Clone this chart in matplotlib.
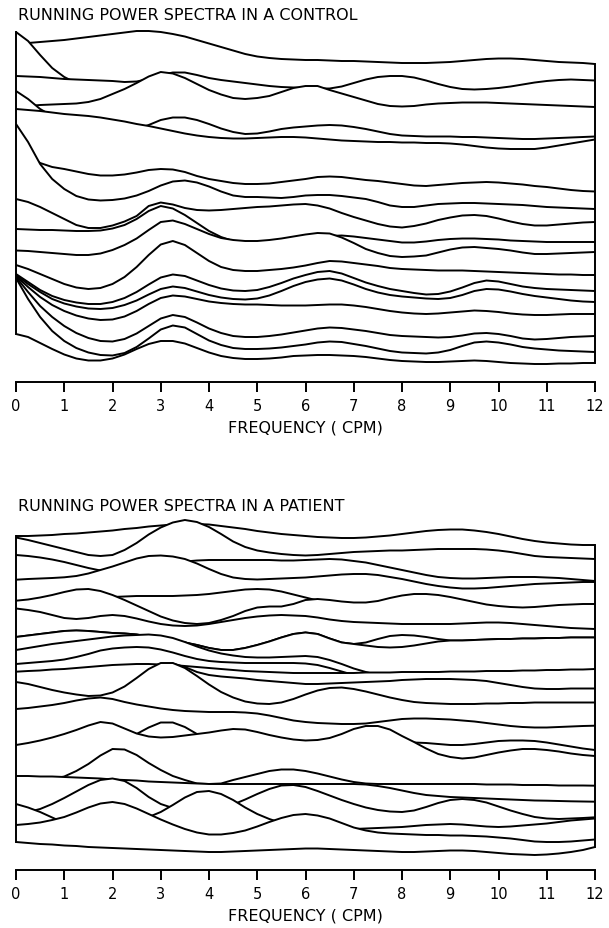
import matplotlib
matplotlib.use('Agg')
import matplotlib.pyplot as plt
import numpy as np

plt.rcParams['font.family'] = 'DejaVu Sans'

W, H = 609, 929

# frequency grid (cpm), 0.25 cpm steps
freq = np.linspace(0, 12, 49)

# running spectra, control -- back (first epoch) to front, stacked power (arb. units)
control_01 = [323, 326, 327, 328, 329, 330.5, 332, 333.5, 335, 336.5, 338, 338, 337, 335, 332.5, 329, 325.5, 322, 318.5, 315, 312.5, 311, 310, 309.5, 309, 309, 308.5, 308, 308, 307.5, 307, 306.5, 306, 306, 306, 306.5, 307, 308, 309, 310, 310.5, 310.5, 310, 309, 308, 307, 306.5, 306, 305]
control_02 = [337, 328, 314, 301, 292, 286, 280, 275, 270, 268, 267, 266, 266, 266, 266, 266, 266, 266, 266, 266, 266, 266, 266, 266, 266, 266, 266, 266, 266, 266, 266, 266, 266, 266, 266, 266, 266, 266, 266, 266, 266, 266, 266, 266, 266, 266, 266, 266, 266]
control_03 = [293, 292.5, 292, 291, 290, 289.5, 289, 288.5, 288, 287, 287.5, 290, 294, 296.5, 296.5, 294, 291, 289, 287.5, 286, 284.5, 283, 282, 281.5, 281, 280.5, 280.5, 282.5, 286, 289.5, 292, 293, 293, 291.5, 288.5, 285, 282, 280, 279.5, 280, 281, 282.5, 284.5, 286.5, 288, 289, 289.5, 289, 288.5]
control_04 = [262, 263, 264, 264.5, 265, 265.5, 267, 270, 275, 280, 286, 292.5, 297, 295.5, 291, 285, 279, 274.5, 271, 270, 271, 273, 277, 281, 283, 283, 279, 275.5, 272, 268.5, 265, 263, 262.5, 263, 264.5, 265.5, 266, 266.5, 266.5, 266.5, 266, 265.5, 265, 264.5, 264, 263.5, 263, 262.5, 262]
control_05 = [278, 270, 260, 253, 251, 247, 244, 242, 240, 239, 240, 244, 249, 251.5, 251.5, 249, 245, 240.5, 237, 235, 235.5, 237.5, 240, 241.5, 242.5, 243.5, 244, 243.5, 242, 240, 237.5, 235, 233.5, 233, 232.5, 232.5, 232.5, 232, 232, 231.5, 231, 230.5, 230, 230, 230.5, 231, 231.5, 232, 232.5]
control_06 = [260, 259, 258, 256.5, 255, 254, 253, 251.5, 249.5, 247.5, 245, 243, 240.5, 238, 235.5, 233.5, 232, 231, 230.5, 230.5, 231, 231.5, 232, 232, 231.5, 230.5, 229.5, 228.5, 228, 227.5, 227, 227, 226.5, 226.5, 226, 226, 225.5, 224.5, 223, 221.5, 220.5, 220, 220, 220, 221.5, 223.5, 225.5, 227.5, 229.5]
control_07 = [220, 215, 206, 202, 200, 197.5, 195, 193.5, 193.5, 194.5, 196.5, 199, 200, 199.5, 197, 193, 190, 188, 186, 185, 185, 185.5, 187, 188.5, 190, 192, 192.5, 192, 190.5, 189, 188, 186.5, 185, 183.5, 183, 184, 185, 186, 186.5, 187, 186.5, 185.5, 184.5, 183, 182, 180.5, 179, 178, 177.5]
control_08 = [245, 227, 205, 190, 180, 173, 169.5, 168.5, 169, 170.5, 173.5, 178, 183.5, 187.5, 188.5, 186.5, 182.5, 177.5, 173.5, 172, 172, 171.5, 171, 172, 173.5, 174, 174, 173, 171.5, 170, 167, 163.5, 162, 162, 163.5, 165, 165.5, 166, 166, 165.5, 165, 164.5, 164, 163, 162, 161.5, 161, 160.5, 160]
control_09 = [170, 167, 162, 156, 150, 144, 141, 141, 143.5, 147.5, 153, 163, 166.5, 164.5, 161, 159, 158.5, 159, 160, 161, 162, 162.5, 163.5, 164.5, 165, 163.5, 160.5, 156, 152, 148.5, 145, 142.5, 141.5, 143, 145.5, 149, 151.5, 153.5, 154, 153, 150.5, 147.5, 145, 143.5, 143.5, 144.5, 145.5, 146.5, 147]
control_10 = [140, 139.5, 139, 139, 138.5, 138, 138, 138.5, 140.5, 144, 150, 158, 163, 160.5, 154, 146, 138, 132, 128, 125, 124, 124, 125, 127, 129, 131, 133, 133.5, 132.5, 131, 129.5, 128, 126.5, 126.5, 127.5, 129, 130, 130.5, 130.5, 130, 129.5, 128.5, 128, 127.5, 127, 127, 127, 127, 127]
control_11 = [118.5, 118, 117, 116, 115, 114, 114, 115.5, 119, 124, 130.5, 139, 147, 148.5, 145, 140, 135, 131, 129, 128, 128, 129, 130.5, 132.5, 134.5, 136, 135.5, 131.5, 126, 120, 116, 113, 112, 112.5, 113.5, 116.5, 119.5, 121.5, 122, 121, 120, 118.5, 116.5, 115, 115, 115.5, 116, 116.5, 117]
control_12 = [104, 100, 95, 90, 85, 81.5, 80, 81, 85, 92, 102, 114, 124.5, 128, 124, 116, 108, 102, 99, 98, 98, 99, 100, 101.5, 103.5, 106, 108, 107.5, 106, 104.5, 103, 101, 100, 99.5, 99, 98.5, 98.5, 98.5, 98, 97.5, 97, 96.5, 96, 95.5, 95, 94.5, 94.5, 94, 94]
control_13 = [95, 87, 79, 73, 69, 66.5, 65, 65, 67, 71, 77, 84.5, 91.5, 94.5, 93, 88.5, 84, 80.5, 78.5, 78, 79, 82, 86, 90.5, 94, 97, 98, 95.5, 91, 86.5, 83, 80, 78, 76, 74.5, 75, 77.5, 81.5, 86, 88.5, 87.5, 85, 82.5, 81, 80, 79.5, 79, 78.5, 78]
control_14 = [94, 85, 77, 70, 65.5, 62.5, 60.5, 60, 61, 64, 68.5, 74.5, 80, 82.5, 81, 77.5, 74, 71.5, 70, 69.5, 70.5, 73.5, 78, 83, 87, 89.5, 90.5, 88.5, 84.5, 80, 76.5, 74, 72.5, 71.5, 70.5, 70, 71, 74, 78, 80, 79.5, 77.5, 75, 73, 71.5, 70, 68.5, 67.5, 67]
control_15 = [93, 82, 72, 64, 58, 53.5, 50.5, 49, 49.5, 52.5, 58, 65, 71, 73.5, 72.5, 70, 67.5, 66, 65, 64.5, 64.5, 64, 63.5, 63.5, 63.5, 64, 64.5, 64.5, 63.5, 62, 60, 58, 56.5, 55.5, 55, 55.5, 56.5, 57.5, 58.5, 58, 57, 55.5, 54.5, 54, 54, 54.5, 55, 55, 55]
control_16 = [92, 77, 63, 52, 43, 36, 31, 28, 27.5, 30, 35.5, 43, 50.5, 54, 52, 46.5, 40.5, 36, 33, 32, 32, 33, 34.5, 36.5, 38.5, 40.5, 41.5, 41, 39.5, 38, 36, 34, 33, 32.5, 32, 31.5, 32, 33.5, 35.5, 36, 35, 33, 30.5, 29.5, 30, 31, 32, 32.5, 33]
control_17 = [91, 70, 52, 38, 28, 21, 16.5, 14, 13.5, 16, 22, 30.5, 39.5, 43.5, 41.5, 35, 28.5, 24, 21, 20, 20, 20.5, 21.5, 23, 24.5, 26.5, 27.5, 27, 25, 23, 20.5, 18, 16.5, 16, 15.5, 16.5, 19, 23, 26.5, 27.5, 26.5, 24.5, 22, 20.5, 19.5, 18.5, 18, 17.5, 17]
control_18 = [35, 32, 26, 20, 14.5, 10.5, 8.5, 8.5, 10.5, 14.5, 20, 25, 28, 28, 25.5, 21, 16.5, 13, 11, 10, 10, 10.5, 11.5, 13, 13.5, 14, 14, 13.5, 13, 12, 10.5, 9, 8, 7.5, 7, 7, 7.5, 8, 8.5, 8, 7, 6, 5.5, 5, 5, 5.5, 5.5, 6, 6]

# running spectra, patient -- back to front
patient_01 = [313, 313, 313.5, 314, 315, 315.5, 316.5, 317.5, 318.5, 320, 321, 322.5, 323.5, 324.5, 325, 325, 324.5, 323, 321.5, 320, 318, 316.5, 315, 314, 313, 312, 311.5, 311, 311, 311.5, 312.5, 313.5, 315, 316.5, 318, 319, 319.5, 319.5, 318.5, 317, 315, 312.5, 310, 308, 306.5, 305.5, 304.5, 304, 304]
patient_02 = [311.5, 309, 306, 303, 300, 297, 294, 293, 294, 299, 306, 314.5, 321.5, 326.5, 329, 327, 322, 315, 307.5, 302, 298.5, 296.5, 295, 294, 293.5, 294, 295, 296, 297, 297.5, 298, 298.5, 298.5, 299, 299.5, 300, 300, 300, 300, 299.5, 298.5, 297, 295, 293, 292, 291.5, 291, 290.5, 290]
patient_03 = [294, 293, 291.5, 289.5, 287, 284, 281, 278.5, 277, 277, 278, 280, 283, 285.5, 287.5, 288.5, 289, 289, 289, 289, 289, 289, 288.5, 288.5, 289, 289.5, 290, 289.5, 288, 286.5, 284, 281.5, 279, 276.5, 274, 272, 271, 270.5, 270.5, 271, 271.5, 272, 272, 272, 271.5, 271, 270, 269, 268]
patient_04 = [269.3, 270, 270.5, 271, 271.7, 273, 275.5, 279, 282.5, 286.5, 290.5, 293, 293.5, 292.5, 290, 285.5, 280, 275, 271.5, 270, 269.5, 270, 270.5, 271, 271.5, 272.5, 273.5, 274.5, 275, 275, 274, 272, 270, 267.5, 265, 263, 261.5, 260.5, 260.5, 261, 262, 263, 264, 265, 265.5, 266, 266.5, 267, 267]
patient_05 = [238, 240, 242.5, 245, 247, 248.5, 250, 251, 252, 252.5, 253, 253, 253, 253, 253.5, 254, 255, 256.5, 258, 259.5, 260, 259.5, 257.5, 254.5, 251.5, 248.5, 246, 244.5, 244, 244, 244, 244, 244, 243.5, 243, 242.5, 242, 241.5, 241, 240.5, 240, 239.5, 239, 239, 239, 239, 239, 239, 239]
patient_06 = [248.3, 249.5, 251.5, 254, 257, 259.5, 260, 258, 254, 249, 243.5, 238, 232.5, 228.5, 226, 225, 226, 229, 233, 238, 241.5, 242.5, 242.5, 245, 249, 250, 249, 247.5, 246.5, 246.5, 248, 251, 253.5, 255, 255, 254, 252, 249.5, 247, 244.5, 243, 242, 241.5, 242, 243, 244, 244.5, 245, 245]
patient_07 = [240.5, 239, 237, 234, 231, 230, 231, 233, 234, 233, 230.5, 227.5, 225, 223.5, 223, 223.5, 225, 227, 229, 231, 232.5, 233.5, 234, 233.5, 233, 231.5, 229.5, 228, 227, 226.5, 226, 225.5, 225, 225, 225, 225, 225, 225.5, 226, 226.5, 226.5, 226, 225, 224, 223, 222, 221, 220.5, 220]
patient_08 = [212, 213.5, 215, 216.5, 218, 218.5, 218, 217, 216, 215.5, 214.5, 212.5, 210, 208, 206.5, 204, 201, 199, 199, 201, 204, 207.5, 211.5, 215, 216.5, 215, 210.5, 206.5, 205, 206.5, 210, 213, 214, 213.5, 212, 210, 208.5, 208.5, 209, 209.5, 210, 210, 210.5, 210.5, 211, 211, 211.5, 211.5, 211.5]
patient_09 = [212, 213.5, 215, 216.5, 218, 218.5, 218, 217, 216, 215.5, 214.5, 212.5, 210, 208, 206.5, 204, 201, 199, 199, 201, 204, 207.5, 211.5, 215, 216.5, 215, 210.5, 206.5, 205, 203.5, 202, 201.5, 202, 203.5, 205.5, 207.5, 208.5, 208.5, 209, 209.5, 210, 210, 210.5, 210.5, 211, 211, 211.5, 211.5, 211.5]
patient_10 = [199, 201, 203, 205, 206.5, 208, 209.5, 211, 212.5, 213.5, 214, 214.5, 213.5, 211, 207, 202.5, 198.5, 195.5, 193.5, 192, 191.5, 191.5, 192, 192.5, 193, 192, 189, 185, 180.5, 177, 174, 172, 171, 170.5, 170.5, 170.5, 170.5, 170.5, 170.5, 170.5, 170.5, 170.5, 170.5, 170, 170, 170, 170, 170, 170]
patient_11 = [185, 186, 187, 188, 189.5, 192, 195, 198.5, 200.5, 201.5, 202, 201.5, 199.5, 196.5, 193, 190, 188, 187, 186.5, 186, 186, 186, 186, 186, 185.5, 184, 181, 177.5, 174, 171.5, 170, 169, 169, 169, 169, 169, 169, 169, 169, 169, 169, 169, 169, 169, 169, 169, 169, 169, 169]
patient_12 = [177.3, 178, 178.5, 179.5, 180, 181, 182, 183, 184, 184.5, 185, 185, 184.5, 184, 183, 182, 181, 180, 179, 178, 177.5, 177, 176.5, 176, 176, 176, 176, 176, 176, 176.5, 176.5, 176.5, 177, 177, 177, 177, 177.5, 177.5, 177.5, 178, 178, 178, 178.5, 178.5, 179, 179, 179.5, 179.5, 180]
patient_13 = [158, 156, 154, 152, 150, 149, 149, 149.5, 151.5, 157, 166, 177, 184.5, 185.5, 182, 177, 174, 172.5, 171.5, 170.5, 169, 168, 167, 166, 165, 165, 165.5, 166, 166.5, 167, 167.5, 168, 169, 169.5, 170, 170, 170, 169.5, 169, 168, 166, 164, 162, 160.5, 160, 160, 160.5, 160.5, 160.5]
patient_14 = [167, 165, 162, 159, 156.5, 154.5, 153, 153.5, 156.5, 162.5, 171, 180, 186, 186, 181, 173, 164.5, 157, 151.5, 147.5, 145.5, 145, 146.5, 150, 154.5, 158.5, 161, 161.5, 160, 157.5, 154.5, 151.5, 149, 147, 146, 145.5, 145, 145, 145, 145.5, 145.5, 146, 146, 146.5, 146.5, 146.5, 146.5, 146.5, 146.5]
patient_15 = [140, 141, 142.5, 144, 146, 148.5, 150.5, 151.5, 150, 147, 144.5, 142.5, 140.5, 139, 138, 137.5, 137, 137, 137, 136.5, 135.5, 133.5, 131, 128.5, 127, 126, 125.5, 125, 125, 125.5, 127, 128.5, 130, 130.5, 130.5, 130, 129.5, 128.5, 127.5, 126, 124.5, 123, 122, 121.5, 121.5, 122, 122.5, 123, 123.3]
patient_16 = [90, 92, 94, 96, 98, 100, 102, 104, 106.5, 110, 115, 121.5, 126.5, 126.5, 122, 115, 109, 105, 102.5, 101, 100, 99.5, 99, 99, 99, 99, 99.5, 100, 100.5, 101.5, 102.5, 104, 105.5, 106.5, 106, 105, 104, 104, 105, 106.5, 108, 108.5, 108.5, 108, 106.5, 104.5, 102.5, 100.5, 99]
patient_17 = [104, 106, 108.5, 111.5, 115, 119, 123.5, 127, 125.5, 120.5, 115.5, 112.5, 111.5, 112, 113.5, 115, 116.5, 118.5, 120, 119.5, 117, 114, 111.5, 109.5, 108.5, 109, 111, 115, 120, 123, 123, 119.5, 113, 107, 100.5, 95, 92, 90.5, 91.5, 94, 96.5, 98.5, 100, 100, 99, 97.5, 95.5, 94, 93]
patient_18 = [60, 64, 67, 70, 72.5, 78, 85, 93.5, 100, 99.5, 94, 86, 79, 73, 69, 65.5, 65, 65.5, 69, 72, 75, 78, 79.5, 79.5, 78, 75.5, 72.5, 69.5, 67, 65.5, 65, 65, 65, 65, 65, 65, 65, 65, 65, 64.5, 64.5, 64.5, 64, 64, 64, 63.5, 63.5, 63.5, 63.3]
patient_19 = [73, 73, 72.5, 72.5, 72, 71.5, 71, 70.5, 69.5, 69, 68.5, 67.5, 67, 66.5, 66, 65.5, 65, 65, 65, 65, 65, 65, 65, 65, 65, 65, 65, 65, 65, 64.5, 63, 61, 58.5, 56, 54, 53, 52, 51.5, 51, 50.5, 50, 49.5, 49, 48.5, 48.3, 48, 47.7, 47.5, 47.3]
patient_20 = [35, 37, 40, 45, 51, 57.5, 64, 69, 70.5, 68, 61, 52, 45, 41, 39, 38.5, 39, 41, 44.5, 49.5, 55, 60, 63.5, 64, 62, 58, 53.5, 49, 45, 41.5, 39, 37.5, 37, 38.5, 42, 46, 49, 50, 49, 46.5, 42.5, 38.5, 35, 32, 30.5, 30, 30.5, 31, 31.7]
patient_21 = [45, 41.5, 37, 31.5, 26, 20, 14, 8, 2, -4, -8, -12, -15, -16, -16, -16, -16, -16, -16, -16, -16, -16, -16, -16, -16, -16, -16, -16, -16, -16, -16, -16, -16, -16, -16, -16, -16, -16, -16, -16, -16, -16, -16, -16, -16, -16, -16, -16, -16]
patient_22 = [15, 16, 17, 18, 20, 22, 24, 25.5, 27, 28, 29.5, 32, 37, 44, 51.5, 57, 58, 55, 49, 41.5, 35, 30, 26, 23, 21, 20, 19.5, 19.5, 20, 20.5, 21, 21.5, 22, 23, 24, 24.5, 25, 24.5, 23.5, 22.5, 22, 22.5, 23.5, 24.5, 25.5, 27, 28.5, 29.5, 30.5]
patient_23 = [24, 25, 26.5, 29, 32, 36.5, 41.5, 45.5, 47, 45, 40.5, 35, 29.5, 24.5, 20, 16.5, 14.5, 14.5, 16, 18.5, 22.5, 27, 31, 34, 35, 33.5, 30.5, 26, 21.5, 18.5, 16.5, 15.5, 15, 14.5, 14, 14, 13.5, 13.5, 13, 12.5, 11.5, 10.5, 9, 7.5, 7, 7, 7.5, 8.5, 9.5]
patient_24 = [7, 6, 5, 4.5, 3.5, 3, 2, 1.5, 1, 0.5, 0, -0.5, -1, -1.5, -2, -2.5, -3, -3, -2.5, -2, -1.5, -1, -0.5, 0, 0.5, 0.5, 0, -0.5, -1, -1.5, -2, -2.5, -3, -3, -2.5, -2, -1.5, -1.5, -2, -3, -4, -5, -5.5, -6, -5.5, -4.5, -3, -1, 2]

control = [control_01, control_02, control_03, control_04, control_05, control_06,
           control_07, control_08, control_09, control_10, control_11, control_12,
           control_13, control_14, control_15, control_16, control_17, control_18]
patient = [patient_01, patient_02, patient_03, patient_04, patient_05, patient_06,
           patient_07, patient_08, patient_09, patient_10, patient_11, patient_12,
           patient_13, patient_14, patient_15, patient_16, patient_17, patient_18,
           patient_19, patient_20, patient_21, patient_22, patient_23, patient_24]

ticks = list(range(13))
tick_labels = [str(t) for t in ticks]


def draw_panel(fig, spectra, top_px, bottom_px, ylo, yhi):
    ax = fig.add_axes([16 / W, 1 - bottom_px / H, 579 / W, (bottom_px - top_px) / H])
    ax.set_xlim(0, 12)
    ax.set_ylim(ylo, yhi)
    ax.axis('off')
    # later spectra sit in front: a white fill under each curve hides what is behind
    for i, h in enumerate(spectra):
        ax.fill_between(freq, h, ylo, facecolor='white', edgecolor='none', zorder=2 * i + 1)
        ax.plot(freq, h, color='black', lw=1.4, zorder=2 * i + 2, clip_on=False,
                solid_joinstyle='round', solid_capstyle='butt')
    first = [s[0] for s in spectra]
    last = [s[-1] for s in spectra]
    z = 2 * len(spectra) + 5
    ax.plot([0, 0], [spectra[-1][0], max(first)], color='black', lw=1.4, zorder=z,
            clip_on=False, solid_capstyle='projecting')
    ax.plot([12, 12], [spectra[-1][-1], max(last)], color='black', lw=1.4, zorder=z,
            clip_on=False, solid_capstyle='projecting')
    return ax


def draw_ruler(fig, y_px):
    ax = fig.add_axes([16 / W, 1 - y_px / H, 579 / W, 0.0001])
    ax.set_xlim(0, 12)
    for side in ['left', 'right', 'top']:
        ax.spines[side].set_visible(False)
    ax.spines['bottom'].set_linewidth(1.4)
    ax.set_yticks([])
    ax.set_xticks(ticks)
    ax.set_xticklabels(tick_labels)
    ax.tick_params(axis='x', direction='out', length=7.5, width=1.4, pad=4, labelsize=10.5)
    ax.set_xlabel('FREQUENCY ( CPM)', fontsize=11.5, labelpad=5)
    return ax


fig = plt.figure(figsize=(W / 100, H / 100), dpi=100)

fig.text(18 / W, 1 - 16 / H, 'RUNNING POWER SPECTRA IN A CONTROL', fontsize=11.5,
         ha='left', va='center')
draw_panel(fig, control, 25, 370, 0, 345)
draw_ruler(fig, 383)

fig.text(18 / W, 1 - 507 / H, 'RUNNING POWER SPECTRA IN A PATIENT', fontsize=11.5,
         ha='left', va='center')
draw_panel(fig, patient, 505, 870, -20, 345)
draw_ruler(fig, 871)

fig.savefig('out.png', dpi=100)
